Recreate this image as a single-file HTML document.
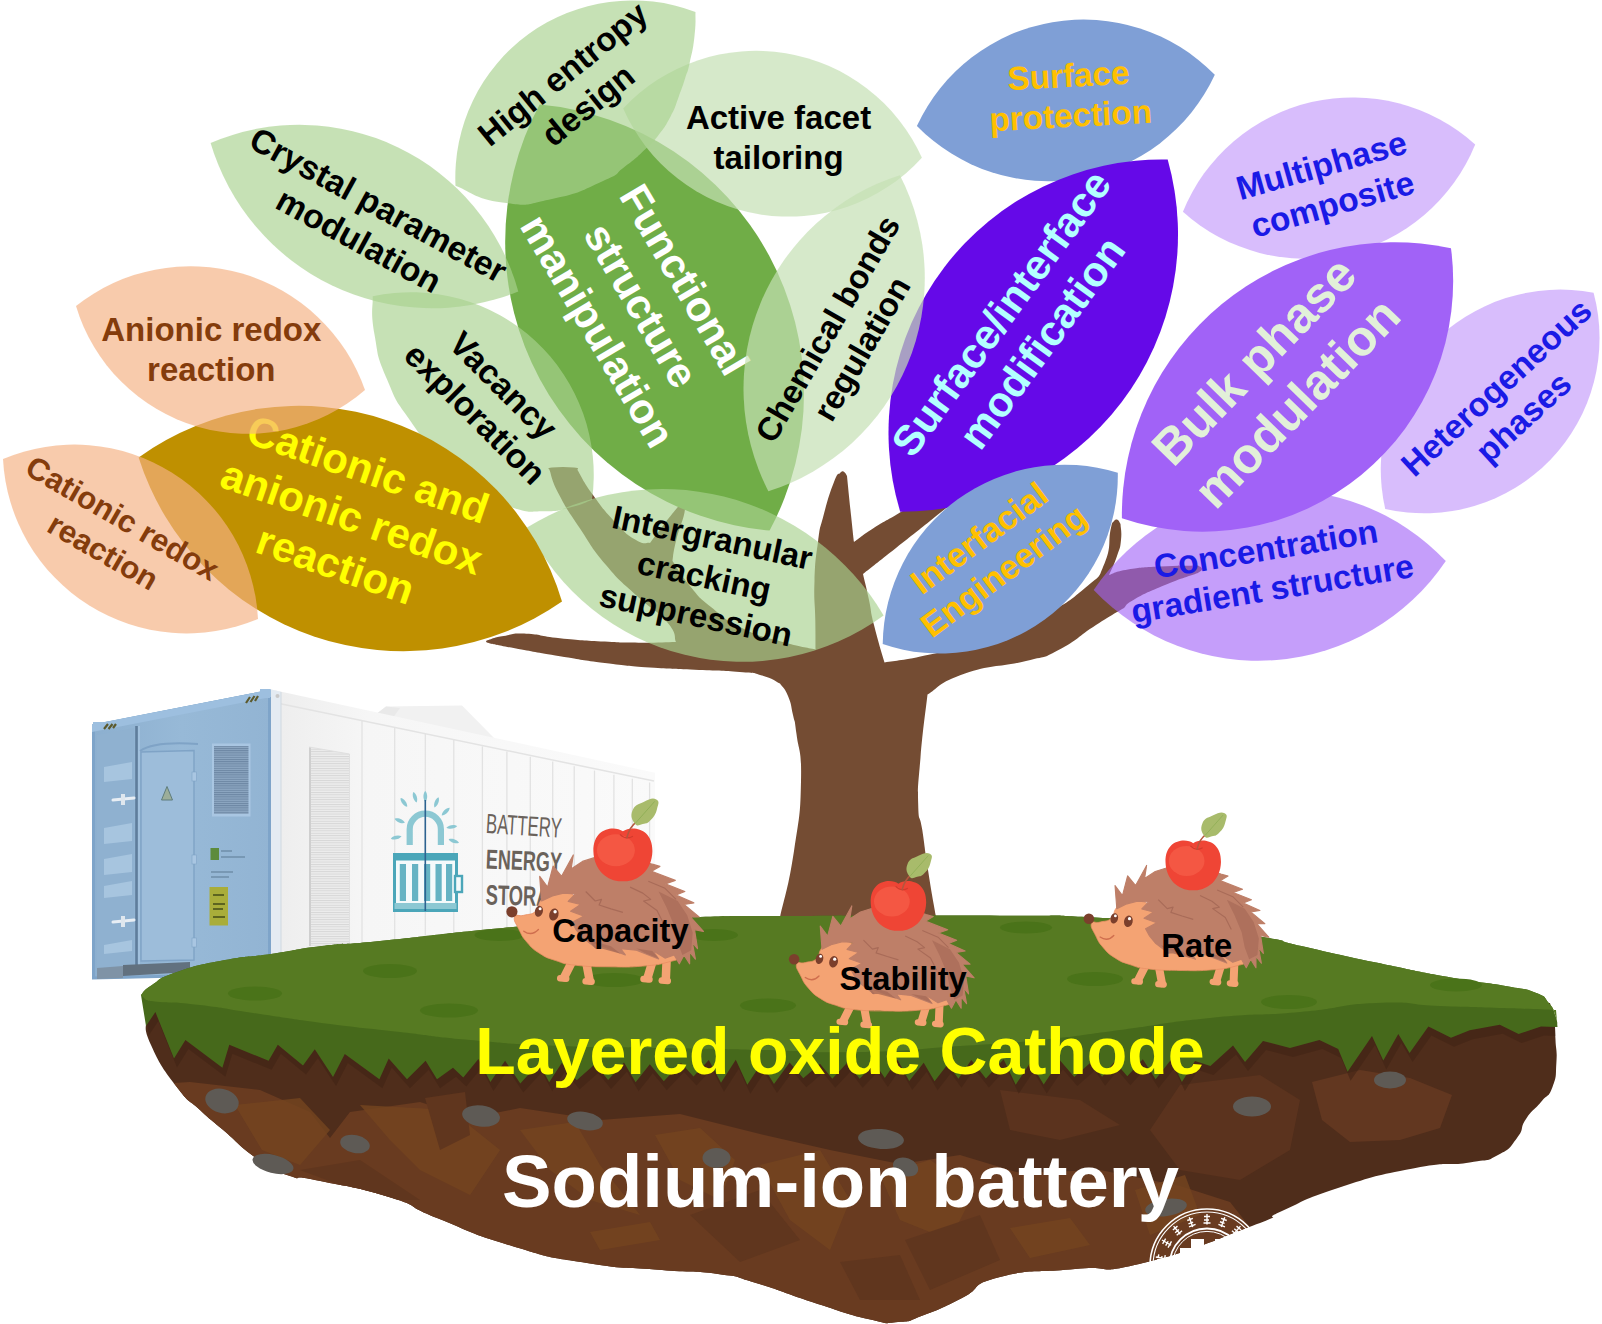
<!DOCTYPE html>
<html><head><meta charset="utf-8"><title>Layered oxide cathode - sodium-ion battery</title>
<style>
html,body{margin:0;padding:0;background:#fff;}
body{width:1602px;height:1324px;overflow:hidden;font-family:"Liberation Sans", sans-serif;}
svg{display:block;font-family:"Liberation Sans", sans-serif;}
</style></head><body>
<svg width="1602" height="1324" viewBox="0 0 1602 1324">
<rect width="1602" height="1324" fill="#ffffff"/>
<g id="container"><defs><linearGradient id="sideg" x1="0" x2="1" y1="0" y2="0"><stop offset="0" stop-color="#ededed"/><stop offset="0.25" stop-color="#f6f6f6"/><stop offset="1" stop-color="#fafafa"/></linearGradient><linearGradient id="frontg" x1="0" x2="1" y1="0" y2="0"><stop offset="0" stop-color="#8cafcf"/><stop offset="0.5" stop-color="#97b9d7"/><stop offset="1" stop-color="#92b4d3"/></linearGradient><pattern id="vent1" width="4" height="2.2" patternUnits="userSpaceOnUse"><rect width="4" height="2.2" fill="#8da7c2"/><rect width="4" height="1" fill="#6c86a3"/></pattern><pattern id="vent2" width="4" height="2.4" patternUnits="userSpaceOnUse"><rect width="4" height="2.4" fill="#ececec"/><rect width="4" height="0.9" fill="#d6d6d6"/></pattern></defs><path fill="#f1f1f1" d="M375 715 L386 706.5 L462 705.5 L495 739 L480 737 Z"/><path fill="#e9e9e9" d="M375 715 L386 706.5 L400 708 L392 719 Z"/><path fill="url(#sideg)" d="M271 689.5 L655 772.7 L655 940 L271 975 Z"/><path fill="none" stroke="#e3e3e3" stroke-width="1.5" d="M272 702 L654 781"/><path stroke="#e2e2e2" stroke-width="1.3" d="M362 720.2 L362 950"/><path stroke="#e2e2e2" stroke-width="1.3" d="M394.7 727.3 L394.7 950"/><path stroke="#e2e2e2" stroke-width="1.3" d="M425.3 733.9 L425.3 950"/><path stroke="#e2e2e2" stroke-width="1.3" d="M453.8 740.1 L453.8 950"/><path stroke="#e2e2e2" stroke-width="1.3" d="M482.4 746.3 L482.4 950"/><path stroke="#e2e2e2" stroke-width="1.3" d="M506.9 751.6 L506.9 950"/><path stroke="#e2e2e2" stroke-width="1.3" d="M530.3 756.7 L530.3 950"/><path stroke="#e2e2e2" stroke-width="1.3" d="M552.7 761.5 L552.7 950"/><path stroke="#e2e2e2" stroke-width="1.3" d="M574.2 766.2 L574.2 950"/><path stroke="#e2e2e2" stroke-width="1.3" d="M594.5 770.6 L594.5 950"/><path stroke="#e2e2e2" stroke-width="1.3" d="M613.9 774.8 L613.9 950"/><path stroke="#e2e2e2" stroke-width="1.3" d="M632.3 778.8 L632.3 950"/><path stroke="#e2e2e2" stroke-width="1.3" d="M649.6 782.5 L649.6 950"/><path fill="#e4ebf2" d="M271 689.5 L281 691.7 L281 975 L271 975 Z"/><path stroke="#d0d8e0" stroke-width="1" d="M281 692 L281 975"/><path fill="url(#vent2)" d="M309 747 L349.5 754 L349.5 946 L309 946 Z"/><path fill="none" stroke="#cfcfcf" stroke-width="2" d="M310 747 L310 946"/><path fill="none" stroke="#e0e0e0" stroke-width="1" d="M309 747 L349.5 754 L349.5 946"/><g><path fill="none" stroke="#8cc8d3" stroke-width="6.2" d="M409.7 845 L409.7 829.3 A15.6 15.6 0 0 1 440.9 829.3 L440.9 845"/><path fill="#8cc8d3" transform="translate(403.9 802.4) rotate(-126.8057366653698)" d="M-5.5 0 C-3 -2.4 3 -2.6 5.5 0 C3 2.6 -3 2.4 -5.5 0Z"/><path fill="#8cc8d3" transform="translate(415 797.3) rotate(-106.99514261195635)" d="M-5.5 0 C-3 -2.4 3 -2.6 5.5 0 C3 2.6 -3 2.4 -5.5 0Z"/><path fill="#8cc8d3" transform="translate(425.3 796.5) rotate(-90.0)" d="M-5.5 0 C-3 -2.4 3 -2.6 5.5 0 C3 2.6 -3 2.4 -5.5 0Z"/><path fill="#8cc8d3" transform="translate(436.5 802.4) rotate(-68.61427206807167)" d="M-5.5 0 C-3 -2.4 3 -2.6 5.5 0 C3 2.6 -3 2.4 -5.5 0Z"/><path fill="#8cc8d3" transform="translate(445.7 811.6) rotate(-43.56071037211758)" d="M-5.5 0 C-3 -2.4 3 -2.6 5.5 0 C3 2.6 -3 2.4 -5.5 0Z"/><path fill="#8cc8d3" transform="translate(451.8 826.9) rotate(-8.794896965443385)" d="M-5.5 0 C-3 -2.4 3 -2.6 5.5 0 C3 2.6 -3 2.4 -5.5 0Z"/><path fill="#8cc8d3" transform="translate(453.8 841) rotate(19.334808537826415)" d="M-5.5 0 C-3 -2.4 3 -2.6 5.5 0 C3 2.6 -3 2.4 -5.5 0Z"/><path fill="#8cc8d3" transform="translate(399.8 820.7) rotate(-158.00515512597715)" d="M-5.5 0 C-3 -2.4 3 -2.6 5.5 0 C3 2.6 -3 2.4 -5.5 0Z"/><path fill="#8cc8d3" transform="translate(396.2 837.5) rotate(167.40866509175686)" d="M-5.5 0 C-3 -2.4 3 -2.6 5.5 0 C3 2.6 -3 2.4 -5.5 0Z"/><rect x="394.5" y="854.5" width="62" height="56" fill="#f4fafb" stroke="#4ba6b9" stroke-width="3"/><rect x="394.5" y="854.5" width="62" height="6" fill="#4ba6b9"/><rect x="394.5" y="903" width="62" height="6" fill="#8cc8d3"/><rect x="455" y="876" width="7" height="16" fill="#f4fafb" stroke="#4ba6b9" stroke-width="2.4"/><rect x="399.8" y="864" width="6.2" height="37" fill="#4ba6b9" opacity="0.85"/><rect x="412" y="864" width="6.2" height="37" fill="#4ba6b9" opacity="0.85"/><rect x="424" y="864" width="6.2" height="37" fill="#4ba6b9" opacity="0.85"/><rect x="435.5" y="864" width="6.2" height="37" fill="#4ba6b9" opacity="0.85"/><rect x="446" y="864" width="6.2" height="37" fill="#4ba6b9" opacity="0.85"/><path stroke="#2d6391" stroke-width="1.6" d="M425.3 800 L425.3 911"/></g><g fill="#6a625b" transform="translate(485.5 0)"><text transform="translate(0 833) rotate(3.5) scale(0.60 1)" font-size="28">BATTERY</text><text transform="translate(0 868.5) rotate(2.5) scale(0.655 1)" font-size="27.5" font-weight="bold">ENERGY</text><text transform="translate(0 904.5) rotate(1.5) scale(0.655 1)" font-size="28" font-weight="bold">STORAGE</text></g><path fill="url(#frontg)" d="M92 724.5 L271 689.5 L271 975 L92 979 Z"/><path fill="none" stroke="#7ea4c9" stroke-width="3" d="M93.5 726 L269.5 691.5 L269.5 974 L93.5 978 Z"/><path fill="#9dbfdf" d="M92 724.5 L271 689.5 L271 697 L92 732 Z"/><path fill="#8fb1d0" d="M97 735 L134 728 L134 965 L97 968 Z"/><path fill="#a7c5df" d="M104 767 L132 762 L132 779 L104 782 Z"/><path fill="#a7c5df" d="M104 828 L132 823 L132 841 L104 844 Z"/><path fill="#a7c5df" d="M104 859 L132 854 L132 872 L104 875 Z"/><path fill="#a7c5df" d="M104 886 L132 881 L132 895 L104 898 Z"/><path fill="#a7c5df" d="M104 945 L132 940 L132 951 L104 954 Z"/><path stroke="#5f7d9c" stroke-width="2.6" d="M136.5 726 L136.5 966"/><path stroke="#a9c6e2" stroke-width="1.4" d="M139 726 L139 966"/><path stroke="#e8eef4" stroke-width="3" stroke-linecap="round" d="M113 800 L134 798"/><rect x="121" y="794" width="4" height="11" fill="#dfe7ee"/><path stroke="#e8eef4" stroke-width="3" stroke-linecap="round" d="M113 922 L134 920"/><rect x="121" y="916" width="4" height="11" fill="#dfe7ee"/><path fill="#9dbdda" d="M141 752 L194 750.5 L194 960 L141 961 Z"/><path fill="none" stroke="#7fa3c6" stroke-width="1.4" d="M141 752 L194 750.5 L194 960 L141 961 Z"/><path fill="none" stroke="#7fa3c6" stroke-width="2" d="M140 751 C150 744 170 742 198 744"/><path fill="#9cae9a" stroke="#5f7d7c" stroke-width="1" d="M167 786.5 L172.5 800 L161.5 800 Z"/><rect x="192" y="772" width="4.5" height="9" fill="#a9c6e2" stroke="#7fa3c6" stroke-width="0.6"/><rect x="192" y="855" width="4.5" height="9" fill="#a9c6e2" stroke="#7fa3c6" stroke-width="0.6"/><rect x="192" y="938" width="4.5" height="9" fill="#a9c6e2" stroke="#7fa3c6" stroke-width="0.6"/><rect x="212" y="743.5" width="38.5" height="73" fill="#a9c6e2"/><rect x="214" y="746" width="34.5" height="68" fill="url(#vent1)"/><rect x="210.5" y="848" width="8.5" height="12" fill="#5d8b3c"/><path stroke="#6f8ea9" stroke-width="1.6" d="M221 851 L232 851 M221 857 L245 857 M211 872 L233 872 M211 877 L229 877"/><rect x="209.5" y="887" width="18.5" height="38.5" fill="#a9ad3a"/><path stroke="#5d6420" stroke-width="1.8" d="M213 895 L224 895 M213 904 L225 904 M213 909 L223 909 M213 917 L225 917"/><rect x="93" y="722" width="10" height="7" fill="#9dbfdf"/><path stroke="#5c5a2e" stroke-width="2.2" d="M104 729 L108 724 M108.5 729 L112.5 724 M113 728 L116 724"/><path stroke="#5c5a2e" stroke-width="2.2" d="M246 703 L250 697 M250.5 702 L254.5 696 M255 701 L258 696"/><rect x="260" y="689" width="10" height="9" fill="#9dbfdf"/><circle cx="277.5" cy="696" r="2" fill="#c9c9c9"/><path fill="#62717f" d="M123 965 L190 962 L190 972 L123 976 Z"/><path fill="#7f93a6" d="M97 968 L123 966 L123 978 L97 979 Z"/></g>
<g id="tree"><path fill="#744c33" d="M776.0 930.0C777.1 926.3 774.9 939.4 780.0 917.0C785.1 894.6 788.0 889.5 794.0 851.0C800.0 812.5 800.3 814.1 801.0 781.0C801.7 747.9 798.8 752.7 796.5 734.0C794.2 715.3 795.4 725.8 793.0 715.0C790.6 704.2 791.7 704.9 788.0 696.0C784.3 687.1 782.3 687.0 780.0 683.5C774.9 681.2 773.4 678.8 762.0 675.5C750.6 672.2 758.8 673.6 739.7 672.0C720.6 670.4 720.2 671.0 694.7 669.7C669.2 668.4 675.3 669.3 649.8 667.4C624.3 665.5 630.3 666.1 604.8 662.9C579.3 659.7 585.4 660.3 559.9 656.2C534.4 652.1 534.7 651.9 514.9 648.3C495.1 644.7 497.1 644.9 490.0 643.5C488.9 642.9 486.1 642.6 486.0 641.5C485.9 640.4 488.5 640.1 489.5 639.5C493.5 638.5 493.3 637.6 503.7 636.0C514.1 634.4 510.3 633.1 526.2 633.7C542.1 634.3 537.6 636.0 559.9 638.2C582.2 640.4 582.5 640.3 604.8 641.6C627.1 642.9 618.3 642.6 638.5 642.7C658.7 642.8 665.4 642.2 676.0 642.0C673.5 636.3 678.0 635.0 667.0 622.0C656.0 609.0 654.3 612.1 637.0 596.0C619.7 579.9 622.1 584.1 606.0 565.0C589.9 545.9 593.3 548.5 580.0 528.5C566.7 508.5 567.6 511.1 559.0 494.5C550.4 477.9 552.2 476.9 549.5 470.0C550.2 469.3 545.1 468.2 552.0 467.5C558.9 466.8 566.8 466.8 574.0 467.5C581.2 468.2 576.5 469.3 577.5 470.0C581.9 477.1 582.1 480.0 593.0 495.0C603.9 510.0 603.8 510.2 616.0 523.0C628.2 535.8 626.4 534.3 636.0 540.0C645.6 545.7 646.0 542.1 650.0 543.0C654.2 537.3 656.6 533.8 665.0 523.0C673.4 512.2 675.4 510.1 679.5 505.0C681.1 506.1 686.0 498.8 685.0 509.0C684.0 519.2 679.5 526.3 676.0 541.0C672.5 555.7 673.5 555.3 672.5 561.0C677.5 568.1 679.1 573.0 690.0 586.0C700.9 599.0 696.3 595.1 711.0 607.0C725.7 618.9 722.2 618.2 742.0 628.0C761.8 637.8 760.1 635.4 781.0 641.5C801.9 647.6 805.8 647.2 815.6 649.5C815.5 641.1 815.6 639.4 815.3 620.0C815.0 600.6 813.7 603.1 814.5 581.0C815.3 558.9 815.5 560.6 818.0 542.0C820.5 523.4 819.0 532.5 823.5 515.5C828.0 498.5 829.3 494.0 834.0 482.0C838.7 470.0 838.3 475.6 840.0 473.0C841.0 472.6 841.5 470.6 843.5 471.5C845.5 472.4 846.0 474.7 847.0 476.0C848.1 487.1 849.0 496.3 851.0 515.0C853.0 533.7 853.1 534.4 854.0 542.0C859.4 538.2 860.0 536.9 873.0 528.5C886.0 520.1 883.9 522.3 900.0 512.5C916.1 502.7 921.5 499.2 930.0 494.0L950.0 505.0C944.3 509.5 945.3 508.8 930.0 521.0C914.7 533.2 915.0 533.0 896.0 548.0C877.0 563.0 872.4 566.6 863.0 574.0C864.7 581.4 865.9 585.5 869.0 600.0C872.1 614.5 869.6 607.3 874.0 625.0C878.4 642.7 881.5 651.9 884.5 662.5C897.4 660.2 901.5 660.9 930.0 654.5C958.5 648.1 953.8 650.6 985.0 640.0C1016.2 629.4 1011.7 631.7 1040.0 617.0C1068.3 602.3 1066.7 603.2 1085.0 588.0C1103.3 572.8 1097.3 579.9 1104.5 563.5C1111.7 547.1 1108.1 541.8 1110.5 530.0C1112.9 518.2 1112.3 524.3 1113.0 522.0C1114.1 521.3 1114.9 518.9 1117.0 519.5C1119.1 520.1 1119.5 522.7 1120.5 524.0C1120.6 528.5 1122.0 530.9 1121.0 540.0C1120.0 549.1 1120.4 546.1 1117.0 556.0C1113.6 565.9 1111.3 569.6 1109.0 575.0C1114.4 573.4 1113.5 571.9 1128.0 569.5C1142.5 567.1 1140.2 567.6 1160.0 566.5C1179.8 565.4 1187.2 565.8 1198.0 565.5C1199.1 566.5 1202.0 566.9 1202.0 569.0C1202.0 571.1 1199.1 571.9 1198.0 573.0C1188.7 576.4 1182.8 577.6 1165.0 585.0C1147.2 592.4 1146.6 592.5 1135.0 599.0C1123.4 605.5 1127.1 605.5 1124.0 608.0C1116.1 612.8 1114.6 613.1 1096.0 625.0C1077.4 636.9 1078.3 639.8 1058.5 650.0C1038.7 660.2 1052.5 654.3 1026.0 661.0C999.5 667.7 992.9 664.0 965.0 673.5C937.1 683.0 938.1 688.5 927.5 694.5C925.5 712.4 923.1 726.3 920.5 757.5C917.9 788.7 917.7 784.0 918.2 804.5C918.7 825.0 919.5 811.4 922.3 830.0C925.1 848.6 924.2 845.7 928.0 870.0C931.8 894.3 932.8 898.7 935.8 915.7C938.8 932.7 937.7 925.9 938.5 930.0Z"/></g>
<g id="leaftext"><path d="M539.6 104.6A290.1 290.1 0 0 1 769.6 530.6A290.1 290.1 0 0 1 539.6 104.6Z" fill="#70ad47"/><g transform="translate(641.7 305) rotate(59.5)" font-size="42" fill="#ffffff" font-weight="bold" text-anchor="middle"><text x="0" y="-35.3">Functional</text><text x="0" y="15.1">structure</text><text x="0" y="65.5">manipulation</text></g><path d="M372.7 296.3A182.6 182.6 0 0 1 592.0 500.0C585.4 502.2 584.2 504.1 569.9 507.5C555.6 510.9 561.6 511.2 544.2 511.2C526.8 511.2 531.9 513.6 512.0 507.5C492.1 501.4 498.7 505.2 478.0 491.0C457.3 476.8 463.2 480.9 443.0 460.0C422.8 439.1 427.5 445.5 410.8 421.4C394.1 397.3 398.1 405.8 387.2 379.7C376.3 353.6 378.9 359.4 374.5 334.4C370.1 309.4 373.2 307.7 372.7 296.3Z" fill="#a9d18e" fill-opacity="0.66"/><g transform="translate(489.6 399.3) rotate(45)" font-size="34" fill="#000" font-weight="bold" text-anchor="middle"><text x="0" y="-7.7">Vacancy</text><text x="0" y="32.1">exploration</text></g><path d="M527.0 527.5A257.2 257.2 0 0 1 883.6 615.4A239.2 239.2 0 0 1 527.0 527.5Z" fill="#a9d18e" fill-opacity="0.66"/><g transform="translate(704.3 575.8) rotate(12)" font-size="33" fill="#000" font-weight="bold" text-anchor="middle"><text x="0" y="-27.7">Intergranular</text><text x="0" y="11.9">cracking</text><text x="0" y="51.5">suppression</text></g><path d="M138.6 457.5A274.7 274.7 0 0 1 562.0 601.5A277.9 277.9 0 0 1 138.6 457.5Z" fill="#bf9000"/><g transform="translate(352 516.5) rotate(19)" font-size="42" fill="#ffff00" font-weight="bold" text-anchor="middle"><text x="0" y="-35.3">Cationic and</text><text x="0" y="15.1">anionic redox</text><text x="0" y="65.5">reaction</text></g><path d="M623.2 108.4A182.0 182.0 0 0 1 921.9 157.8A180.5 180.5 0 0 1 623.2 108.4Z" fill="#c5e0b4" fill-opacity="0.7"/><g transform="translate(778.5 137) rotate(0)" font-size="33" fill="#000" font-weight="bold" text-anchor="middle"><text x="0" y="-7.9">Active facet</text><text x="0" y="31.7">tailoring</text></g><path d="M210.6 142.9A227.1 227.1 0 0 1 518.3 291.5A231.0 231.0 0 0 1 210.6 142.9Z" fill="#a9d18e" fill-opacity="0.66"/><g transform="translate(368.8 222.3) rotate(28.6)" font-size="33.7" fill="#000" font-weight="bold" text-anchor="middle"><text x="0" y="-8.1">Crystal parameter</text><text x="0" y="32.4">modulation</text></g><path d="M455.5 185.7A177.2 177.2 0 0 1 695.5 12.0C695.2 19.2 696.2 20.8 694.5 36.0C692.8 51.2 692.5 50.1 689.7 62.7C686.9 75.3 688.4 68.0 685.2 78.1C682.0 88.2 683.2 84.9 678.9 96.3C674.5 107.7 677.0 104.4 670.7 116.2C664.4 128.0 665.7 125.7 658.0 135.7C650.3 145.7 654.9 140.3 645.0 149.5C635.1 158.7 637.9 156.9 625.0 166.5C612.1 176.1 623.9 171.8 602.0 181.5C580.1 191.2 581.9 192.7 552.0 199.0C522.1 205.3 531.2 206.5 502.3 202.5C473.4 198.5 469.5 190.7 455.5 185.7Z" fill="#a9d18e" fill-opacity="0.66"/><g transform="translate(575 89) rotate(-39)" font-size="33.5" fill="#000" font-weight="bold" text-anchor="middle"><text x="0" y="-8.0">High entropy</text><text x="0" y="32.2">design</text></g><path d="M916.9 125.9A183.6 183.6 0 0 1 1214.8 74.8A183.6 183.6 0 0 1 916.9 125.9Z" fill="#7f9fd6"/><g transform="translate(1069.5 95) rotate(-3)" font-size="33.3" fill="#ffc000" font-weight="bold" text-anchor="middle"><text x="0" y="-8.0">Surface</text><text x="0" y="32.0">protection</text></g><path d="M900.2 511.7A273.1 273.1 0 0 1 1167.7 159.6A277.2 277.2 0 0 1 900.2 511.7Z" fill="#6509e8"/><g transform="translate(1021.1 327.6) rotate(-54)" font-size="42" fill="#b3ffff" font-weight="bold" text-anchor="middle"><text x="0" y="-10.1">Surface/interface</text><text x="0" y="40.3">modification</text></g><path d="M768.4 491.2A223.7 223.7 0 0 1 899.9 175.3A223.7 223.7 0 0 1 768.4 491.2Z" fill="#c5e0b4" fill-opacity="0.7"/><g transform="translate(844.2 338.5) rotate(-60)" font-size="33" fill="#000" font-weight="bold" text-anchor="middle"><text x="0" y="-7.9">Chemical bonds</text><text x="0" y="31.7">regulation</text></g><path d="M76.0 306.0A184.8 184.8 0 0 1 365.0 390.0A179.1 179.1 0 0 1 76.0 306.0Z" fill="#f4b183" fill-opacity="0.67"/><g transform="translate(211.3 349) rotate(0)" font-size="33" fill="#843c0c" font-weight="bold" text-anchor="middle"><text x="0" y="-7.9">Anionic redox</text><text x="0" y="31.7">reaction</text></g><path d="M3.0 459.0A183.9 183.9 0 0 1 258.0 619.0A183.9 183.9 0 0 1 3.0 459.0Z" fill="#f4b183" fill-opacity="0.67"/><g transform="translate(113 534.5) rotate(30)" font-size="31.2" fill="#843c0c" font-weight="bold" text-anchor="middle"><text x="0" y="-8.1">Cationic redox</text><text x="0" y="30.6">reaction</text></g><path d="M1182.9 211.7A183.2 183.2 0 0 1 1475.2 144.5A183.2 183.2 0 0 1 1182.9 211.7Z" fill="#a162f7" fill-opacity="0.42"/><g transform="translate(1326.8 184.2) rotate(-15.7)" font-size="33.6" fill="#1a1ae6" font-weight="bold" text-anchor="middle"><text x="0" y="-8.1">Multiphase</text><text x="0" y="32.3">composite</text></g><path d="M1385.2 508.9A179.6 179.6 0 0 1 1593.6 292.7A175.3 175.3 0 0 1 1385.2 508.9Z" fill="#a162f7" fill-opacity="0.42"/><g transform="translate(1509.5 401.9) rotate(-42.5)" font-size="33.5" fill="#1a1ae6" font-weight="bold" text-anchor="middle"><text x="0" y="-8.0">Heterogeneous</text><text x="0" y="32.2">phases</text></g><path d="M1093.7 589.9A226.4 226.4 0 0 1 1445.8 561.1A226.4 226.4 0 0 1 1093.7 589.9Z" fill="#a162f7" fill-opacity="0.62"/><g transform="translate(1269 568.2) rotate(-9.3)" font-size="33.4" fill="#1a1ae6" font-weight="bold" text-anchor="middle"><text x="0" y="-8.0">Concentration</text><text x="0" y="32.1">gradient structure</text></g><path d="M1121.9 518.3A272.8 272.8 0 0 1 1451.0 248.2A250.6 250.6 0 0 1 1121.9 518.3Z" fill="#a162f7"/><g transform="translate(1274.9 381.3) rotate(-45.8)" font-size="50" fill="#e2f0d9" font-weight="bold" text-anchor="middle"><text x="0" y="-12.0">Bulk phase</text><text x="0" y="48.0">modulation</text></g><path d="M882.7 644.0A181.8 181.8 0 0 1 1117.8 472.7A177.7 177.7 0 0 1 882.7 644.0Z" fill="#7f9fd6"/><g transform="translate(991.1 554) rotate(-36.7)" font-size="34" fill="#ffc000" font-weight="bold" text-anchor="middle"><text x="0" y="-8.2">Interfacial</text><text x="0" y="32.6">Engineering</text></g></g>
<g id="island"><path fill="#4f2d1b" d="M146.0 1020.0C147.5 1027.5 142.0 1025.2 151.0 1045.0C160.0 1064.8 161.3 1066.5 176.0 1086.0C190.7 1105.5 186.2 1097.1 200.0 1110.0C213.8 1122.9 204.3 1114.0 222.0 1129.0C239.7 1144.0 238.6 1145.9 259.0 1160.0C279.4 1174.1 273.2 1170.0 290.0 1176.0C306.8 1182.0 285.3 1173.7 315.0 1180.0C344.7 1186.3 352.4 1185.6 389.0 1197.0C425.6 1208.4 400.1 1203.3 437.0 1218.0C473.9 1232.7 467.0 1232.5 512.0 1246.0C557.0 1259.5 542.0 1255.8 587.0 1263.0C632.0 1270.2 622.7 1266.7 662.0 1270.0C701.3 1273.3 689.8 1270.1 718.0 1274.0C746.2 1277.9 727.8 1274.6 756.0 1283.0C784.2 1291.4 778.4 1291.2 812.0 1302.0C845.6 1312.8 842.2 1313.0 868.0 1319.0C893.8 1325.0 881.2 1323.2 898.0 1322.0C914.8 1320.8 904.8 1322.2 924.0 1315.0C943.2 1307.8 939.2 1309.4 962.0 1298.0C984.8 1286.6 966.1 1285.7 1000.0 1277.0C1033.9 1268.3 1032.1 1273.2 1075.0 1269.0C1117.9 1264.8 1089.9 1275.9 1143.0 1263.0C1196.1 1250.1 1210.3 1241.6 1252.0 1226.0C1293.7 1210.4 1256.2 1222.4 1282.0 1211.0C1307.8 1199.6 1298.7 1200.8 1338.0 1188.0C1377.3 1175.2 1373.5 1176.2 1413.0 1168.5C1452.5 1160.8 1444.1 1166.5 1469.6 1162.4C1495.1 1158.4 1483.8 1162.3 1498.0 1155.0C1512.2 1147.7 1508.6 1148.8 1517.0 1138.0C1525.4 1127.2 1518.8 1129.8 1526.0 1119.0C1533.2 1108.2 1533.0 1111.6 1541.0 1102.0C1549.0 1092.4 1547.9 1098.8 1552.5 1087.0C1557.1 1075.2 1555.5 1076.6 1556.4 1062.5C1557.3 1048.4 1555.9 1050.7 1555.5 1040.0C1555.1 1029.3 1555.2 1030.9 1555.0 1027.0L1550 1003 L148 1003Z"/><clipPath id="soilclip"><path d="M146.0 1020.0C147.5 1027.5 142.0 1025.2 151.0 1045.0C160.0 1064.8 161.3 1066.5 176.0 1086.0C190.7 1105.5 186.2 1097.1 200.0 1110.0C213.8 1122.9 204.3 1114.0 222.0 1129.0C239.7 1144.0 238.6 1145.9 259.0 1160.0C279.4 1174.1 273.2 1170.0 290.0 1176.0C306.8 1182.0 285.3 1173.7 315.0 1180.0C344.7 1186.3 352.4 1185.6 389.0 1197.0C425.6 1208.4 400.1 1203.3 437.0 1218.0C473.9 1232.7 467.0 1232.5 512.0 1246.0C557.0 1259.5 542.0 1255.8 587.0 1263.0C632.0 1270.2 622.7 1266.7 662.0 1270.0C701.3 1273.3 689.8 1270.1 718.0 1274.0C746.2 1277.9 727.8 1274.6 756.0 1283.0C784.2 1291.4 778.4 1291.2 812.0 1302.0C845.6 1312.8 842.2 1313.0 868.0 1319.0C893.8 1325.0 881.2 1323.2 898.0 1322.0C914.8 1320.8 904.8 1322.2 924.0 1315.0C943.2 1307.8 939.2 1309.4 962.0 1298.0C984.8 1286.6 966.1 1285.7 1000.0 1277.0C1033.9 1268.3 1032.1 1273.2 1075.0 1269.0C1117.9 1264.8 1089.9 1275.9 1143.0 1263.0C1196.1 1250.1 1210.3 1241.6 1252.0 1226.0C1293.7 1210.4 1256.2 1222.4 1282.0 1211.0C1307.8 1199.6 1298.7 1200.8 1338.0 1188.0C1377.3 1175.2 1373.5 1176.2 1413.0 1168.5C1452.5 1160.8 1444.1 1166.5 1469.6 1162.4C1495.1 1158.4 1483.8 1162.3 1498.0 1155.0C1512.2 1147.7 1508.6 1148.8 1517.0 1138.0C1525.4 1127.2 1518.8 1129.8 1526.0 1119.0C1533.2 1108.2 1533.0 1111.6 1541.0 1102.0C1549.0 1092.4 1547.9 1098.8 1552.5 1087.0C1557.1 1075.2 1555.5 1076.6 1556.4 1062.5C1557.3 1048.4 1555.9 1050.7 1555.5 1040.0C1555.1 1029.3 1555.2 1030.9 1555.0 1027.0L1550 1003 L148 1003Z"/></clipPath><g clip-path="url(#soilclip)"><path fill="#693b20" d="M140.0 1085.0L190.0 1082.0L260.0 1090.0L310.0 1112.0L330.0 1138.0L350.0 1112.0L420.0 1102.0L470.0 1118.0L520.0 1108.0L600.0 1120.0L680.0 1114.0L760.0 1134.0L830.0 1150.0L900.0 1164.0L960.0 1155.0L1020.0 1173.0L1100.0 1170.0L1180.0 1186.0L1230.0 1202.0L1260.0 1240.0L1200.0 1330.0L140.0 1330.0Z"/><path fill="#623720" d="M1312 1082 L1360 1070 L1410 1078 L1452 1095 L1440 1128 L1400 1140 L1350 1142 L1322 1120Z"/><path fill="#5b331e" d="M1180 1085 L1260 1075 L1300 1100 L1290 1150 L1240 1180 L1180 1170 L1150 1130Z"/><path fill="#5b331e" d="M1000 1090 L1080 1100 L1120 1125 L1060 1140 L1010 1130Z"/><path fill="#74451f" opacity="0.8" d="M235.0 1105.0L300.0 1098.0L330.0 1130.0L300.0 1165.0L262.0 1150.0Z"/><path fill="#74451f" opacity="0.8" d="M360.0 1105.0L450.0 1110.0L500.0 1150.0L470.0 1195.0L420.0 1170.0L390.0 1140.0Z"/><path fill="#74451f" opacity="0.8" d="M520.0 1130.0L575.0 1122.0L600.0 1165.0L640.0 1215.0L590.0 1200.0L550.0 1170.0Z"/><path fill="#74451f" opacity="0.8" d="M655.0 1135.0L700.0 1128.0L735.0 1160.0L720.0 1200.0L680.0 1180.0Z"/><path fill="#74451f" opacity="0.8" d="M590.0 1232.0L650.0 1222.0L660.0 1240.0L600.0 1250.0Z"/><path fill="#74451f" opacity="0.8" d="M760.0 1165.0L820.0 1150.0L850.0 1200.0L830.0 1250.0L790.0 1220.0Z"/><path fill="#74451f" opacity="0.8" d="M880.0 1175.0L930.0 1160.0L975.0 1190.0L950.0 1240.0L900.0 1220.0Z"/><path fill="#74451f" opacity="0.8" d="M1135.0 1190.0L1185.0 1175.0L1200.0 1215.0L1150.0 1235.0Z"/><path fill="#74451f" opacity="0.8" d="M1010.0 1228.0L1070.0 1218.0L1090.0 1245.0L1030.0 1258.0Z"/><path fill="#60361e" d="M425.0 1098.0L465.0 1092.0L470.0 1135.0L440.0 1150.0Z"/><path fill="#60361e" d="M690.0 1215.0L760.0 1190.0L800.0 1240.0L740.0 1262.0Z"/><path fill="#60361e" d="M300.0 1170.0L360.0 1160.0L420.0 1200.0L380.0 1200.0Z"/><path fill="#60361e" d="M905.0 1240.0L980.0 1215.0L1000.0 1260.0L930.0 1290.0Z"/><path fill="#60361e" d="M840.0 1262.0L900.0 1255.0L920.0 1300.0L860.0 1300.0Z"/></g><ellipse cx="222" cy="1101" rx="17" ry="12" fill="#5e5a55" transform="rotate(15 222 1101)"/><ellipse cx="355" cy="1144" rx="15" ry="9" fill="#5e5a55" transform="rotate(12 355 1144)"/><ellipse cx="273" cy="1164" rx="21" ry="9" fill="#5e5a55" transform="rotate(14 273 1164)"/><ellipse cx="481" cy="1116" rx="19" ry="10.5" fill="#5e5a55" transform="rotate(8 481 1116)"/><ellipse cx="585" cy="1121" rx="18" ry="9" fill="#5e5a55" transform="rotate(10 585 1121)"/><ellipse cx="716.5" cy="1158" rx="14" ry="10" fill="#5e5a55" transform="rotate(0 716.5 1158)"/><ellipse cx="881" cy="1139" rx="23" ry="10" fill="#5e5a55" transform="rotate(4 881 1139)"/><ellipse cx="905.6" cy="1167" rx="13" ry="9" fill="#5e5a55" transform="rotate(20 905.6 1167)"/><ellipse cx="1252" cy="1106.5" rx="19" ry="10" fill="#5e5a55" transform="rotate(0 1252 1106.5)"/><ellipse cx="1390" cy="1080" rx="16" ry="8.5" fill="#5e5a55" transform="rotate(0 1390 1080)"/><ellipse cx="1166" cy="1207.5" rx="21" ry="8.7" fill="#5e5a55" transform="rotate(-8 1166 1207.5)"/><g clip-path="url(#soilclip)"><path fill="#3f2314" opacity="0.55" transform="translate(3 9)" d="M1556.0 1027.0L1541.0 1026.6L1518.6 1034.0L1499.8 1024.7L1469.7 1030.3L1451.0 1037.8L1428.4 1026.6L1409.6 1052.9L1398.3 1034.0L1383.3 1060.4L1372.0 1036.0L1347.6 1071.7L1338.2 1049.0L1319.4 1040.0L1290.0 1048.0L1263.0 1041.0L1245.0 1062.0L1233.0 1045.4L1210.4 1066.0L1195.0 1060.9L1181.9 1081.9L1171.2 1059.4L1155.6 1079.3L1142.8 1059.3L1127.3 1076.3L1114.7 1061.6L1102.1 1076.8L1091.8 1061.5L1074.3 1077.1L1059.9 1060.3L1043.7 1084.5L1030.4 1062.5L1015.7 1084.8L1003.6 1059.3L985.9 1078.6L971.3 1059.9L958.4 1078.8L947.9 1063.9L934.6 1081.2L923.7 1062.8L909.2 1080.9L897.3 1059.4L884.8 1077.9L874.6 1063.1L859.6 1078.8L847.4 1062.5L832.3 1078.7L820.0 1063.8L803.3 1078.2L789.6 1062.4L774.0 1083.9L761.3 1063.4L747.3 1084.8L735.8 1059.7L721.0 1082.8L708.8 1059.9L693.5 1076.4L681.0 1063.0L663.8 1081.2L649.8 1064.3L635.6 1082.3L624.0 1062.6L608.1 1080.1L595.1 1064.0L576.7 1080.3L561.7 1063.0L549.2 1082.3L539.0 1062.9L520.3 1083.4L505.1 1060.7L490.4 1082.0L478.4 1059.1L463.3 1077.5L453.0 1067.8L437.0 1079.3L425.6 1060.8L407.0 1079.3L388.7 1058.5L379.4 1079.3L344.8 1054.0L333.0 1077.0L314.8 1049.3L303.0 1065.5L277.8 1044.7L268.6 1060.8L229.3 1044.7L222.4 1067.8L185.4 1040.0L174.0 1058.5L155.4 1012.0L146.0 1026.0L141 995L1558 1000Z"/></g><path fill="#46691b" d="M141.0 995.0C144.3 992.0 141.2 991.9 152.0 985.0C162.8 978.1 155.1 979.5 177.0 972.0C198.9 964.5 196.8 965.4 225.0 960.0C253.2 954.6 241.9 958.2 271.0 954.0C300.1 949.8 289.3 949.9 322.0 946.0C354.7 942.1 325.7 946.4 380.0 941.0C434.3 935.6 437.0 934.0 503.0 928.0C569.0 922.0 540.9 924.3 600.0 921.0C659.1 917.7 640.0 918.5 700.0 917.0C760.0 915.5 710.0 916.4 800.0 916.0C890.0 915.6 914.2 915.4 1000.0 915.7C1085.8 916.0 1033.5 914.2 1086.0 917.0C1138.5 919.8 1121.9 919.0 1175.0 925.0C1228.1 931.0 1225.5 930.8 1263.0 937.0C1300.5 943.2 1266.1 938.1 1300.0 945.7C1333.9 953.4 1330.7 953.0 1376.0 962.5C1421.3 972.0 1411.7 970.4 1451.0 977.5C1490.3 984.6 1481.6 981.6 1507.0 986.2C1532.4 990.8 1523.1 987.8 1535.6 992.8C1548.1 997.8 1542.8 996.0 1548.8 1003.0C1554.8 1010.0 1552.9 1008.8 1555.5 1016.0C1558.1 1023.2 1556.9 1023.7 1557.5 1027.0L1556.0 1027.0L1541.0 1026.6L1518.6 1034.0L1499.8 1024.7L1469.7 1030.3L1451.0 1037.8L1428.4 1026.6L1409.6 1052.9L1398.3 1034.0L1383.3 1060.4L1372.0 1036.0L1347.6 1071.7L1338.2 1049.0L1319.4 1040.0L1290.0 1048.0L1263.0 1041.0L1245.0 1062.0L1233.0 1045.4L1210.4 1066.0L1195.0 1060.9L1181.9 1081.9L1171.2 1059.4L1155.6 1079.3L1142.8 1059.3L1127.3 1076.3L1114.7 1061.6L1102.1 1076.8L1091.8 1061.5L1074.3 1077.1L1059.9 1060.3L1043.7 1084.5L1030.4 1062.5L1015.7 1084.8L1003.6 1059.3L985.9 1078.6L971.3 1059.9L958.4 1078.8L947.9 1063.9L934.6 1081.2L923.7 1062.8L909.2 1080.9L897.3 1059.4L884.8 1077.9L874.6 1063.1L859.6 1078.8L847.4 1062.5L832.3 1078.7L820.0 1063.8L803.3 1078.2L789.6 1062.4L774.0 1083.9L761.3 1063.4L747.3 1084.8L735.8 1059.7L721.0 1082.8L708.8 1059.9L693.5 1076.4L681.0 1063.0L663.8 1081.2L649.8 1064.3L635.6 1082.3L624.0 1062.6L608.1 1080.1L595.1 1064.0L576.7 1080.3L561.7 1063.0L549.2 1082.3L539.0 1062.9L520.3 1083.4L505.1 1060.7L490.4 1082.0L478.4 1059.1L463.3 1077.5L453.0 1067.8L437.0 1079.3L425.6 1060.8L407.0 1079.3L388.7 1058.5L379.4 1079.3L344.8 1054.0L333.0 1077.0L314.8 1049.3L303.0 1065.5L277.8 1044.7L268.6 1060.8L229.3 1044.7L222.4 1067.8L185.4 1040.0L174.0 1058.5L155.4 1012.0L146.0 1026.0Z"/><path fill="#567a22" d="M141.0 995.0C144.3 992.0 141.2 991.9 152.0 985.0C162.8 978.1 155.1 979.5 177.0 972.0C198.9 964.5 196.8 965.4 225.0 960.0C253.2 954.6 241.9 958.2 271.0 954.0C300.1 949.8 289.3 949.9 322.0 946.0C354.7 942.1 325.7 946.4 380.0 941.0C434.3 935.6 437.0 934.0 503.0 928.0C569.0 922.0 540.9 924.3 600.0 921.0C659.1 917.7 640.0 918.5 700.0 917.0C760.0 915.5 710.0 916.4 800.0 916.0C890.0 915.6 914.2 915.4 1000.0 915.7C1085.8 916.0 1033.5 914.2 1086.0 917.0C1138.5 919.8 1121.9 919.0 1175.0 925.0C1228.1 931.0 1225.5 930.8 1263.0 937.0C1300.5 943.2 1266.1 938.1 1300.0 945.7C1333.9 953.4 1330.7 953.0 1376.0 962.5C1421.3 972.0 1411.7 970.4 1451.0 977.5C1490.3 984.6 1481.6 981.6 1507.0 986.2C1532.4 990.8 1523.1 987.8 1535.6 992.8C1548.1 997.8 1542.8 996.0 1548.8 1003.0C1554.8 1010.0 1552.9 1008.8 1555.5 1016.0C1558.1 1023.2 1556.9 1023.7 1557.5 1027.0L1556.0 1010.0C1539.2 1009.4 1534.8 1009.2 1500.0 1008.0C1465.2 1006.8 1477.2 1007.5 1440.0 1006.0C1402.8 1004.5 1418.0 1001.2 1376.0 1003.0C1334.0 1004.8 1349.8 1007.5 1300.0 1012.0C1250.2 1016.5 1264.0 1012.6 1210.0 1018.0C1156.0 1023.4 1171.0 1023.4 1120.0 1030.0C1069.0 1036.6 1088.0 1035.2 1040.0 1040.0C992.0 1044.8 1014.0 1042.4 960.0 1046.0C906.0 1049.6 920.0 1050.8 860.0 1052.0C800.0 1053.2 820.0 1051.2 760.0 1050.0C700.0 1048.8 720.0 1049.2 660.0 1048.0C600.0 1046.8 617.0 1048.4 560.0 1046.0C503.0 1043.6 518.0 1044.2 470.0 1040.0C422.0 1035.8 442.0 1036.8 400.0 1032.0C358.0 1027.2 372.0 1029.4 330.0 1024.0C288.0 1018.6 299.0 1019.7 260.0 1014.0C221.0 1008.3 230.0 1008.6 200.0 1005.0C170.0 1001.4 176.2 1003.5 160.0 1002.0C143.8 1000.5 150.2 1000.6 146.0 1000.0Z"/><ellipse cx="390" cy="971" rx="27" ry="7" fill="#4a7319"/><ellipse cx="255" cy="993.5" rx="27" ry="7" fill="#4a7319"/><ellipse cx="449" cy="1010.5" rx="29" ry="7" fill="#4a7319"/><ellipse cx="499.5" cy="935" rx="25" ry="6" fill="#4a7319"/><ellipse cx="614" cy="980" rx="30" ry="7" fill="#4a7319"/><ellipse cx="768" cy="1005.5" rx="28" ry="7" fill="#4a7319"/><ellipse cx="714" cy="935" rx="24" ry="6" fill="#4a7319"/><ellipse cx="1026" cy="927.5" rx="26" ry="6" fill="#4a7319"/><ellipse cx="1095" cy="979" rx="28" ry="7" fill="#4a7319"/><ellipse cx="1289" cy="1002" rx="28" ry="7" fill="#4a7319"/><ellipse cx="1456" cy="985" rx="26" ry="6.5" fill="#4a7319"/></g>
<g id="hedgehogs"><defs><g id="hedgehog"><path d="M60.3 49.5 L52.3 65.4" stroke="#f4a373" stroke-width="8.5" stroke-linecap="round"/><path d="M48.3 66.4 L54.3 66.9" stroke="#f4a373" stroke-width="6.5" stroke-linecap="round"/><path d="M74.6 51.9 L77.7 68.5" stroke="#f4a373" stroke-width="8.5" stroke-linecap="round"/><path d="M73.7 69.5 L79.7 70.0" stroke="#f4a373" stroke-width="6.5" stroke-linecap="round"/><path d="M140.4 50.3 L135.6 66.1" stroke="#f4a373" stroke-width="8.5" stroke-linecap="round"/><path d="M131.6 67.1 L137.6 67.6" stroke="#f4a373" stroke-width="6.5" stroke-linecap="round"/><path d="M154.7 48.7 L153.9 67.7" stroke="#f4a373" stroke-width="8.5" stroke-linecap="round"/><path d="M149.9 68.7 L155.9 69.2" stroke="#f4a373" stroke-width="6.5" stroke-linecap="round"/><path fill="#f4a373" stroke="#e88e63" stroke-width="0.8" d="M2.7 5.1C1.4 8.9 3.8 11.0 7.1 17.8C10.4 24.5 9.6 24.1 15.1 30.5C20.6 36.8 20.1 36.7 27.8 41.6C35.4 46.4 33.9 45.5 43.6 48.7C53.4 51.9 49.4 51.8 64.2 53.5C79.1 55.2 81.4 54.8 99.1 55.0C116.9 55.3 115.6 55.5 130.9 54.3C146.1 53.0 145.3 53.2 156.2 50.3C167.2 47.3 166.6 48.4 172.1 43.1C177.6 37.9 183.6 36.4 176.9 30.5C170.1 24.5 167.5 26.9 146.7 20.9C126.0 15.0 119.4 16.7 99.1 8.2C78.8 -0.2 83.3 -3.2 70.6 -10.8C57.9 -18.4 60.9 -18.6 51.6 -20.3C42.2 -22.0 41.8 -19.7 35.7 -17.1C29.6 -14.6 31.7 -15.2 28.6 -10.8C25.4 -6.3 28.2 -4.3 23.8 -0.5C19.4 3.3 17.5 2.0 11.9 3.5C6.3 5.0 4.0 1.3 2.7 5.1Z"/><path fill="#be7f68" d="M29.7 -10.8L27.8 -35.4L35.7 -24.7L41.2 -45.7L49.7 -35.4L61.4 -56.8L59.2 -42.8L70.6 -50.4L83.3 -54.4L99.1 -56.8L122.9 -53.6L140.4 -47.6L148.0 -45.4L139.6 -40.6L163.4 -31.4L153.4 -27.9L172.9 -20.3L164.2 -16.8L181.9 -8.9L172.1 -7.3L187.2 5.1L178.5 5.1L191.5 19.7L182.6 17.8L185.6 36.8L180.4 30.5L183.5 47.3L177.7 40.0L177.7 52.0L172.1 43.1L167.4 52.0L162.3 43.1L153.1 46.3L140.4 38.4L146.7 47.1L124.5 38.4L108.7 36.8L113.4 43.1L92.8 35.2L80.1 30.5L84.9 36.8L70.6 25.7L64.2 17.8L60.3 10.6L72.2 4.3L58.7 -0.5L68.7 -7.3L56.3 -10.5L63.5 -17.9L51.6 -18.7L40.5 -15.9Z" stroke="#be7f68" stroke-width="1.2" stroke-linejoin="round"/><path fill="#a86b58" opacity="0.75" d="M146.7 -20.3L165.8 -10.8L175.3 3.5L180.8 20.9L179.3 38.4L170.5 43.1L165.8 30.5L162.6 14.6L154.7 -4.4Z"/><path fill="#a86b58" opacity="0.8" d="M76.9 28.1L99.1 34.4L108.7 41.9L89.6 36.8L83.3 36.8Z"/><path fill="#a86b58" opacity="0.8" d="M124.5 36.8L140.4 39.2L146.7 46.6L134.0 41.6Z"/><path fill="none" stroke="#a86b58" stroke-width="1.2" stroke-linejoin="round" d="M73.8 -20.3L83.3 -10.8L89.6 -12.4L87.2 -6.8L99.1 -2.9L111.0 0.6"/><path fill="none" stroke="#a86b58" stroke-width="1.2" stroke-linejoin="round" d="M118.2 -24.7L130.9 -18.7L138.8 -12.4L131.7 -10.8L145.1 -1.3L151.5 11.4"/><path fill="none" stroke="#a86b58" stroke-width="1.1" stroke-linejoin="round" d="M136.4 -30.6L153.1 -23.5L164.2 -12.4"/><circle cx="0" cy="0" r="5.6" fill="#7b3f2c"/><ellipse cx="27.0" cy="-0.5" rx="4" ry="5.6" fill="#7b3f2c" transform="rotate(15 27.0 -0.5)"/><ellipse cx="42.0" cy="2.7" rx="4.6" ry="6.2" fill="#7b3f2c" transform="rotate(15 42.0 2.7)"/><circle cx="28.2" cy="-3.1" r="1.5" fill="#fff"/><circle cx="43.2" cy="-0.1" r="1.7" fill="#fff"/><path fill="none" stroke="#cf6e4e" stroke-width="1.4" stroke-linecap="round" d="M11.9 19.4Q19.8 24.9 26.5 17.8"/><path fill="#ef4535" d="M111.0 -80.5 C119.0 -86.5 141.0 -84.5 140.5 -60.5 C140.0 -40.5 125.0 -29.5 111.0 -30.5 C97.0 -29.5 82.0 -40.5 81.5 -60.5 C81.0 -84.5 103.0 -86.5 111.0 -80.5Z"/><ellipse cx="104.0" cy="-61.5" rx="19" ry="16" fill="#f45a45" opacity="0.85"/><path fill="none" stroke="#d33a2d" stroke-width="1.2" d="M108.0 -77.5 Q114.0 -71.5 121.0 -75.5"/><path fill="none" stroke="#b5563d" stroke-width="1.6" stroke-linecap="round" d="M115.0 -74.2Q117.4 -84.5 124.8 -90.1"/><path fill="#a8bb6b" d="M122.9 -88.2C120.2 -91.8 118.2 -95.4 120.6 -101.2C122.9 -107.0 125.3 -107.0 131.7 -109.9C138.0 -112.9 140.8 -114.2 144.4 -112.3C147.9 -110.4 146.6 -108.3 145.1 -102.8C143.7 -97.3 142.6 -95.7 138.8 -91.7C135.0 -87.7 135.1 -88.7 130.9 -87.7C126.6 -86.8 125.7 -84.6 122.9 -88.2Z"/><path stroke="#8fae55" stroke-width="0.9" d="M123.7 -88.8L142.8 -110.4"/></g></defs><use href="#hedgehog" transform="translate(511.9 911.8) scale(1.0)"/><use href="#hedgehog" transform="translate(794.1 959.3) scale(0.94)"/><use href="#hedgehog" transform="translate(1088.9 918.8) scale(0.94)"/><g font-size="32.7" font-weight="bold" fill="#000" text-anchor="middle"><text x="620.5" y="942">Capacity</text><text x="903.2" y="990">Stability</text><text x="1196.8" y="957.4">Rate</text></g></g>
<g id="bigtext"><text x="840" y="1074" font-size="66.3" font-weight="bold" fill="#ffff00" text-anchor="middle">Layered oxide Cathode</text><text x="840.5" y="1206.5" font-size="74.3" font-weight="bold" fill="#ffffff" text-anchor="middle">Sodium-ion battery</text><g fill="none" stroke="#ffffff" transform="translate(1207 1266)"><circle r="57" stroke-width="1.6"/><circle r="54" stroke-width="1.1"/><circle r="37.5" stroke-width="1.8"/><circle r="34.6" stroke-width="1"/><g transform="rotate(-80)"><path d="M-3 -49.5 L3 -49.5 M0 -52 L0 -41.5 M-3.5 -43 L3.5 -43 M-3 -46 L2 -46" stroke-width="1.4"/></g><g transform="rotate(-60)"><path d="M-3 -49.5 L3 -49.5 M0 -52 L0 -41.5 M-3.5 -43 L3.5 -43 M-3 -46 L2 -46" stroke-width="1.4"/></g><g transform="rotate(-40)"><path d="M-3 -49.5 L3 -49.5 M0 -52 L0 -41.5 M-3.5 -43 L3.5 -43 M-3 -46 L2 -46" stroke-width="1.4"/></g><g transform="rotate(-20)"><path d="M-3 -49.5 L3 -49.5 M0 -52 L0 -41.5 M-3.5 -43 L3.5 -43 M-3 -46 L2 -46" stroke-width="1.4"/></g><g transform="rotate(0)"><path d="M-3 -49.5 L3 -49.5 M0 -52 L0 -41.5 M-3.5 -43 L3.5 -43 M-3 -46 L2 -46" stroke-width="1.4"/></g><g transform="rotate(20)"><path d="M-3 -49.5 L3 -49.5 M0 -52 L0 -41.5 M-3.5 -43 L3.5 -43 M-3 -46 L2 -46" stroke-width="1.4"/></g><g transform="rotate(40)"><path d="M-3 -49.5 L3 -49.5 M0 -52 L0 -41.5 M-3.5 -43 L3.5 -43 M-3 -46 L2 -46" stroke-width="1.4"/></g><g transform="rotate(60)"><path d="M-3 -49.5 L3 -49.5 M0 -52 L0 -41.5 M-3.5 -43 L3.5 -43 M-3 -46 L2 -46" stroke-width="1.4"/></g><g transform="rotate(80)"><path d="M-3 -49.5 L3 -49.5 M0 -52 L0 -41.5 M-3.5 -43 L3.5 -43 M-3 -46 L2 -46" stroke-width="1.4"/></g><path fill="#fff" stroke="none" d="M-27 -4 L-27 -18 L-16 -18 L-16 -27 L-3 -27 L-3 -18 L8 -18 L8 -27 L14 -27 L14 0 Z"/></g></g>
</svg>
</body></html>
